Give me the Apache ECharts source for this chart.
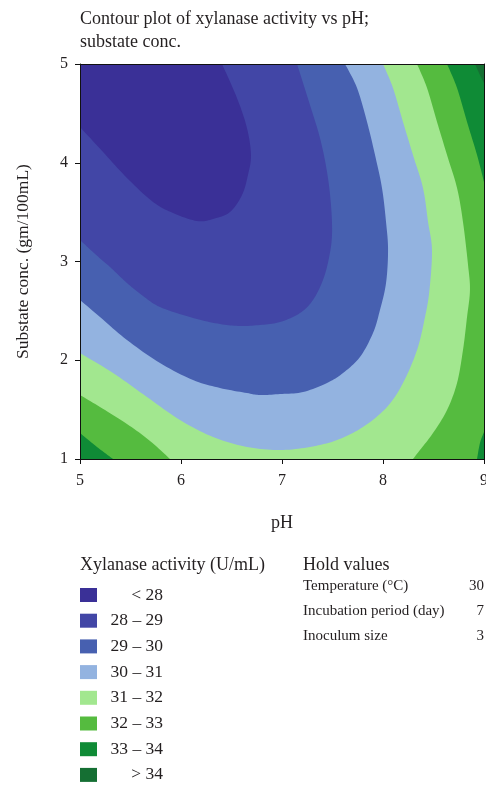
<!DOCTYPE html>
<html><head><meta charset="utf-8">
<script src="https://cdn.jsdelivr.net/npm/echarts@6/dist/echarts.min.js"></script>
<style>html,body{margin:0;padding:0;background:#fff;overflow:hidden}#c{width:486px;height:787px}</style>
</head><body><div id="c"></div>
<script>
// ---- axis data ----
const phTicks = [5, 6, 7, 8, 9];
const concTicks = [1, 2, 3, 4, 5];
// ---- legend / bands ----
const bandLabels = ['< 28', '28 – 29', '29 – 30', '30 – 31', '31 – 32', '32 – 33', '33 – 34', '> 34'];
const bandColors = ['#3a3097', '#4246a6', '#4760b0', '#93b3e0', '#a2e78f', '#55bb3f', '#0f8b36', '#156f33'];
// ---- hold values ----
const holdNames = ['Temperature (°C)', 'Incubation period (day)', 'Inoculum size'];
const holdValues = ['30', '7', '3'];
// ---- contour lines (pH, substrate conc.) ----
const c28_pH   = [6.406, 6.554, 6.653, 6.693, 6.663, 6.604, 6.485, 6.317, 6.158, 5.921, 5.723, 5.465, 5.228, 5.0];
const c28_conc = [5.0, 4.656, 4.352, 4.078, 3.876, 3.673, 3.501, 3.430, 3.410, 3.491, 3.603, 3.846, 4.109, 4.362];
const c29_pH   = [7.149, 7.277, 7.376, 7.446, 7.485, 7.495, 7.465, 7.406, 7.307, 7.178, 6.980, 6.782, 6.584, 6.386, 6.119, 5.792, 5.624, 5.465, 5.297, 5.149, 5.0];
const c29_conc = [5.0, 4.585, 4.251, 3.906, 3.572, 3.268, 3.035, 2.813, 2.610, 2.478, 2.387, 2.357, 2.347, 2.367, 2.428, 2.539, 2.651, 2.782, 2.944, 3.076, 3.218];
const c30_pH   = [7.624, 7.743, 7.842, 7.921, 7.990, 8.030, 8.050, 8.030, 7.970, 7.901, 7.772, 7.604, 7.446, 7.208, 6.980, 6.782, 6.653, 6.386, 6.119, 5.792, 5.465, 5.198, 5.0];
const c30_conc = [5.0, 4.757, 4.413, 4.078, 3.744, 3.400, 3.116, 2.782, 2.509, 2.276, 2.033, 1.871, 1.770, 1.678, 1.658, 1.648, 1.668, 1.719, 1.800, 1.972, 2.205, 2.438, 2.610];
const c31_pH   = [8.000, 8.099, 8.198, 8.297, 8.396, 8.446, 8.485, 8.460, 8.416, 8.337, 8.198, 8.040, 7.802, 7.545, 7.277, 6.980, 6.653, 6.317, 5.990, 5.663, 5.327, 5.0];
const c31_conc = [5.0, 4.757, 4.413, 4.078, 3.744, 3.400, 3.116, 2.711, 2.438, 2.104, 1.770, 1.527, 1.324, 1.192, 1.122, 1.091, 1.122, 1.223, 1.395, 1.628, 1.871, 2.073];
const c32r_pH   = [8.337, 8.436, 8.535, 8.634, 8.733, 8.792, 8.842, 8.861, 8.832, 8.792, 8.733, 8.634, 8.495, 8.366, 8.297];
const c32r_conc = [5.0, 4.757, 4.413, 4.078, 3.744, 3.400, 2.965, 2.711, 2.438, 2.104, 1.770, 1.496, 1.263, 1.091, 1.0];
const c32l_pH   = [5.0, 5.198, 5.465, 5.693, 5.891];
const c32l_conc = [1.648, 1.527, 1.355, 1.183, 1.0];
const c33tr_pH   = [8.634, 8.733, 8.832, 8.931, 9.0];
const c33tr_conc = [5.0, 4.757, 4.413, 4.078, 3.805];
const c33br_pH   = [9.0, 8.960, 8.931];
const c33br_conc = [1.273, 1.162, 1.0];
const c33bl_pH   = [5.0, 5.168, 5.327];
const c33bl_conc = [1.263, 1.122, 1.0];
const c34tr_pH   = [8.911, 8.960, 9.0];
const c34tr_conc = [5.0, 4.889, 4.808];

const X0 = phTicks[0], X1 = phTicks[phTicks.length - 1];
const Y0 = concTicks[0], Y1 = concTicks[concTicks.length - 1];
const zip = (a, b) => a.map((v, i) => [v, b[i]]);
const rev = arr => arr.slice().reverse();

// "below level" regions, painted from highest to lowest; each run of length 1 is a corner,
// longer runs are contour curves (drawn smoothed)
const regions = [
  { color: bandColors[7], runs: [[[X0, Y1]], [[X1, Y1]], [[X1, Y0]], [[X0, Y0]]] },
  { color: bandColors[6], runs: [[[X0, Y1]], zip(c34tr_pH, c34tr_conc), [[X1, Y0]], [[X0, Y0]]] },
  { color: bandColors[5], runs: [[[X0, Y1]], zip(c33tr_pH, c33tr_conc), zip(c33br_pH, c33br_conc), rev(zip(c33bl_pH, c33bl_conc))] },
  { color: bandColors[4], runs: [[[X0, Y1]], zip(c32r_pH, c32r_conc), rev(zip(c32l_pH, c32l_conc))] },
  { color: bandColors[3], runs: [[[X0, Y1]], zip(c31_pH, c31_conc)] },
  { color: bandColors[2], runs: [[[X0, Y1]], zip(c30_pH, c30_conc)] },
  { color: bandColors[1], runs: [[[X0, Y1]], zip(c29_pH, c29_conc)] },
  { color: bandColors[0], runs: [[[X0, Y1]], zip(c28_pH, c28_conc)] }
];

// Catmull-Rom rendering of a pixel polyline (drawing style only)
function smoothPx(px) {
  if (px.length < 3) return px;
  const out = [];
  const n = px.length;
  for (let i = 0; i < n - 1; i++) {
    const p0 = px[Math.max(0, i - 1)], p1 = px[i], p2 = px[i + 1], p3 = px[Math.min(n - 1, i + 2)];
    const steps = 10;
    for (let s = 0; s < steps; s++) {
      const t = s / steps, t2 = t * t, t3 = t2 * t;
      out.push([
        0.5 * (2 * p1[0] + (-p0[0] + p2[0]) * t + (2 * p0[0] - 5 * p1[0] + 4 * p2[0] - p3[0]) * t2 + (-p0[0] + 3 * p1[0] - 3 * p2[0] + p3[0]) * t3),
        0.5 * (2 * p1[1] + (-p0[1] + p2[1]) * t + (2 * p0[1] - 5 * p1[1] + 4 * p2[1] - p3[1]) * t2 + (-p0[1] + 3 * p1[1] - 3 * p2[1] + p3[1]) * t3)
      ]);
    }
  }
  out.push(px[n - 1]);
  return out;
}

const FONT = '"Liberation Serif", "Times New Roman", serif';
const TXT = '#231f20';
const axisLineStyle = { color: '#111', width: 1 };

const graphic = [];
// legend
graphic.push({ type: 'text', x: 80, y: 565, style: { text: 'Xylanase activity (U/mL)', font: '18px ' + FONT, fill: TXT, verticalAlign: 'middle', textVerticalAlign: 'middle' } });
bandLabels.forEach((lab, i) => {
  const yc = 595 + i * 25.7;
  graphic.push({ type: 'rect', shape: { x: 80, y: yc - 7, width: 17, height: 14 }, style: { fill: bandColors[i] } });
  graphic.push({ type: 'text', x: 163, y: yc, style: { text: lab, font: '17.5px ' + FONT, fill: TXT, align: 'right', verticalAlign: 'middle', textAlign: 'right', textVerticalAlign: 'middle' } });
});
// hold values
graphic.push({ type: 'text', x: 303, y: 565, style: { text: 'Hold values', font: '18px ' + FONT, fill: TXT, verticalAlign: 'middle', textVerticalAlign: 'middle' } });
holdNames.forEach((n, i) => {
  const yc = 586 + i * 25;
  graphic.push({ type: 'text', x: 303, y: yc, style: { text: n, font: '15px ' + FONT, fill: TXT, verticalAlign: 'middle', textVerticalAlign: 'middle' } });
  graphic.push({ type: 'text', x: 484, y: yc, style: { text: holdValues[i], font: '15px ' + FONT, fill: TXT, align: 'right', textAlign: 'right', verticalAlign: 'middle', textVerticalAlign: 'middle' } });
});

const chart = echarts.init(document.getElementById('c'), null, { renderer: 'canvas' });
chart.setOption({
  animation: false,
  backgroundColor: '#fff',
  title: {
    text: 'Contour plot of xylanase activity vs pH;\nsubstate conc.',
    left: 75, top: 3,
    textStyle: { fontFamily: FONT, fontSize: 18, fontWeight: 'normal', color: TXT, lineHeight: 23 }
  },
  grid: { left: 80, right: 2, top: 64, bottom: 328, containLabel: false, outerBoundsMode: 'none' },
  xAxis: [
    {
      type: 'value', min: X0, max: X1, interval: 1, position: 'bottom', z: 10,
      name: 'pH', nameLocation: 'middle', nameGap: 55,
      nameTextStyle: { fontFamily: FONT, fontSize: 18, color: TXT },
      axisLine: { show: true, lineStyle: axisLineStyle },
      axisTick: { show: true, length: 5, lineStyle: axisLineStyle },
      axisLabel: { fontFamily: FONT, fontSize: 16, color: TXT, margin: 14, showMaxLabel: true, showMinLabel: true, hideOverlap: false },
      splitLine: { show: false }
    },
    {
      type: 'value', min: X0, max: X1, position: 'top', z: 10,
      axisLine: { show: true, onZero: false, lineStyle: axisLineStyle },
      axisTick: { show: false }, axisLabel: { show: false }, splitLine: { show: false }
    }
  ],
  yAxis: [
    {
      type: 'value', min: Y0, max: Y1, interval: 1, position: 'left', z: 10,
      name: 'Substate conc. (gm/100mL)', nameLocation: 'middle', nameGap: 48,
      nameTextStyle: { fontFamily: FONT, fontSize: 17.5, color: TXT },
      axisLine: { show: true, lineStyle: axisLineStyle },
      axisTick: { show: true, length: 5, lineStyle: axisLineStyle },
      axisLabel: { fontFamily: FONT, fontSize: 16, color: TXT, margin: 12 },
      splitLine: { show: false }
    },
    {
      type: 'value', min: Y0, max: Y1, position: 'right', z: 10,
      axisLine: { show: true, onZero: false, lineStyle: axisLineStyle },
      axisTick: { show: false }, axisLabel: { show: false }, splitLine: { show: false }
    }
  ],
  series: [{
    type: 'custom',
    coordinateSystem: 'cartesian2d',
    xAxisIndex: 0, yAxisIndex: 0,
    silent: true, clip: true, z: 1,
    data: regions.map(() => [X0, Y0]),
    renderItem: function (params, api) {
      const r = regions[params.dataIndex];
      let pts = [];
      r.runs.forEach(run => { pts = pts.concat(smoothPx(run.map(p => api.coord(p)))); });
      return {
        type: 'polygon',
        shape: { points: pts },
        style: { fill: r.color, stroke: null }
      };
    }
  }],
  graphic: graphic
});
</script>
</body></html>
